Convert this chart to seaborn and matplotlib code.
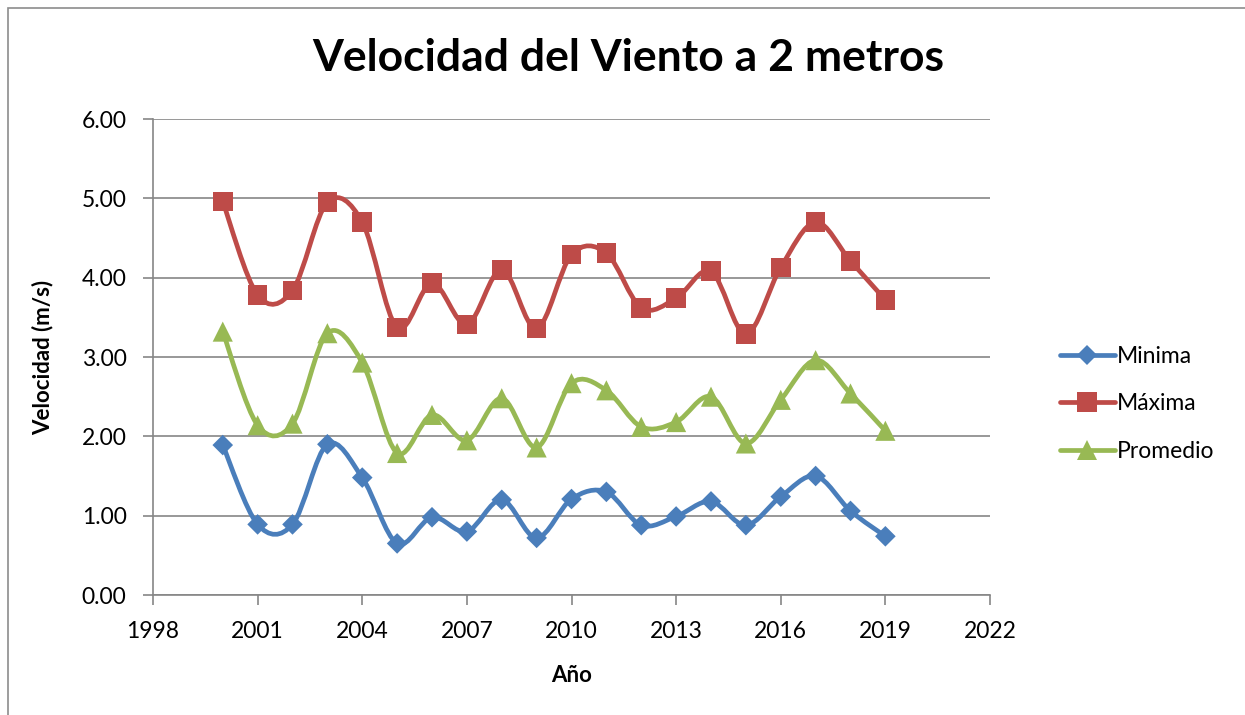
import numpy as np
import pandas as pd
import matplotlib
matplotlib.use("Agg")
import matplotlib.pyplot as plt
import seaborn as sns
from matplotlib.path import Path
from matplotlib.patches import PathPatch, Rectangle
from matplotlib.lines import Line2D

# Data
years = list(range(2000, 2020))
minima = [1.89, 0.89, 0.89, 1.90, 1.48, 0.65, 0.98, 0.80, 1.20, 0.72,
          1.21, 1.30, 0.88, 0.99, 1.18, 0.88, 1.24, 1.50, 1.06, 0.74]
maxima = [4.96, 3.78, 3.84, 4.95, 4.70, 3.37, 3.93, 3.41, 4.10, 3.36,
          4.29, 4.31, 3.62, 3.74, 4.08, 3.29, 4.13, 4.70, 4.21, 3.72]
promedio = [3.32, 2.14, 2.16, 3.30, 2.93, 1.79, 2.27, 1.95, 2.48, 1.86,
            2.67, 2.58, 2.12, 2.18, 2.50, 1.91, 2.46, 2.96, 2.54, 2.07]
series_names = ["Minima", "Máxima", "Promedio"]
colors = ["#4A7EBB", "#BE4B48", "#98B954"]
markers = ["D", "s", "^"]
marker_sizes = [110, 200, 210]

x_ticks = [1998, 2001, 2004, 2007, 2010, 2013, 2016, 2019, 2022]
y_ticks = [0, 1, 2, 3, 4, 5, 6]


def smooth_path(xs, ys):
    """Excel-style smoothed line as cubic Bezier segments."""
    pts = np.column_stack([xs, ys]).astype(float)
    n = len(pts)
    verts = [pts[0]]
    codes = [Path.MOVETO]
    for i in range(n - 1):
        p0 = pts[i - 1] if i > 0 else pts[i]
        p1 = pts[i]
        p2 = pts[i + 1]
        p3 = pts[i + 2] if i + 2 < n else pts[i + 1]
        c1 = p1 + (p2 - p0) / 6.0
        c2 = p2 - (p3 - p1) / 6.0
        verts += [c1, c2, p2]
        codes += [Path.CURVE4] * 3
    return Path(verts, codes)


df = pd.DataFrame({"Año": years * 3,
                   "Velocidad": minima + maxima + promedio,
                   "Serie": sum([[s] * len(years) for s in series_names], [])})

sns.set_theme(style="white")
plt.rcParams["font.family"] = ["Lato", "DejaVu Sans"]
plt.rcParams["text.color"] = "black"
plt.rcParams["axes.labelcolor"] = "black"

fig = plt.figure(figsize=(12.45, 7.15), dpi=100)
ax = fig.add_axes([153 / 1245, 1 - 595 / 715, (990 - 153) / 1245, (595 - 119) / 715])

# outer chart border
fig.patches.append(Rectangle((8 / 1245, -0.1), 1.2, 1 - 8 / 715 + 0.1,
                             transform=fig.transFigure, fill=False,
                             edgecolor="#8c8c8c", linewidth=1.2))

for name, vals, col in zip(series_names, [minima, maxima, promedio], colors):
    ax.add_patch(PathPatch(smooth_path(years, vals), fill=False, edgecolor=col,
                           linewidth=3.4, capstyle="round", joinstyle="round", zorder=3))

sns.scatterplot(data=df, x="Año", y="Velocidad", hue="Serie", style="Serie",
                palette=colors, markers=dict(zip(series_names, markers)),
                size="Serie", sizes=dict(zip(series_names, marker_sizes)),
                linewidth=0, legend=False, ax=ax, zorder=4)

ax.set_xlim(1998, 2022)
ax.set_ylim(0, 6)
ax.set_xticks(x_ticks)
ax.set_yticks(y_ticks)
ax.set_yticklabels([f"{v:.2f}" for v in y_ticks])
ax.yaxis.grid(True, color="#868686", linewidth=1.2)
ax.xaxis.grid(False)
for s in ["top", "right"]:
    ax.spines[s].set_visible(False)
for s in ["left", "bottom"]:
    ax.spines[s].set_color("#868686")
    ax.spines[s].set_linewidth(1.2)
ax.tick_params(axis="both", direction="out", length=7, width=1.2, color="#868686",
               labelsize=16.5, labelcolor="black", left=True, bottom=True)
ax.tick_params(axis="y", pad=12)
ax.tick_params(axis="x", pad=12)

ax.set_xlabel("Año", fontsize=16, fontweight="bold", labelpad=16)
ax.set_ylabel("Velocidad (m/s)", fontsize=16, fontweight="bold", labelpad=20)
fig.text(628 / 1245, 1 - 58 / 715, "Velocidad del Viento a 2 metros",
         ha="center", va="center", fontsize=32, fontweight="bold", color="black")

handles = [Line2D([], [], color=c, marker=m, linewidth=3.4,
                  markersize=np.sqrt(sz), markeredgewidth=0)
           for c, m, sz in zip(colors, markers, marker_sizes)]
fig.legend(handles, series_names, loc="center left",
           bbox_to_anchor=(1039 / 1245, 1 - 404 / 715), frameon=False,
           fontsize=16.5, handlelength=2.4, handletextpad=0.1, labelspacing=1.15)

fig.savefig("out.png", dpi=100)
